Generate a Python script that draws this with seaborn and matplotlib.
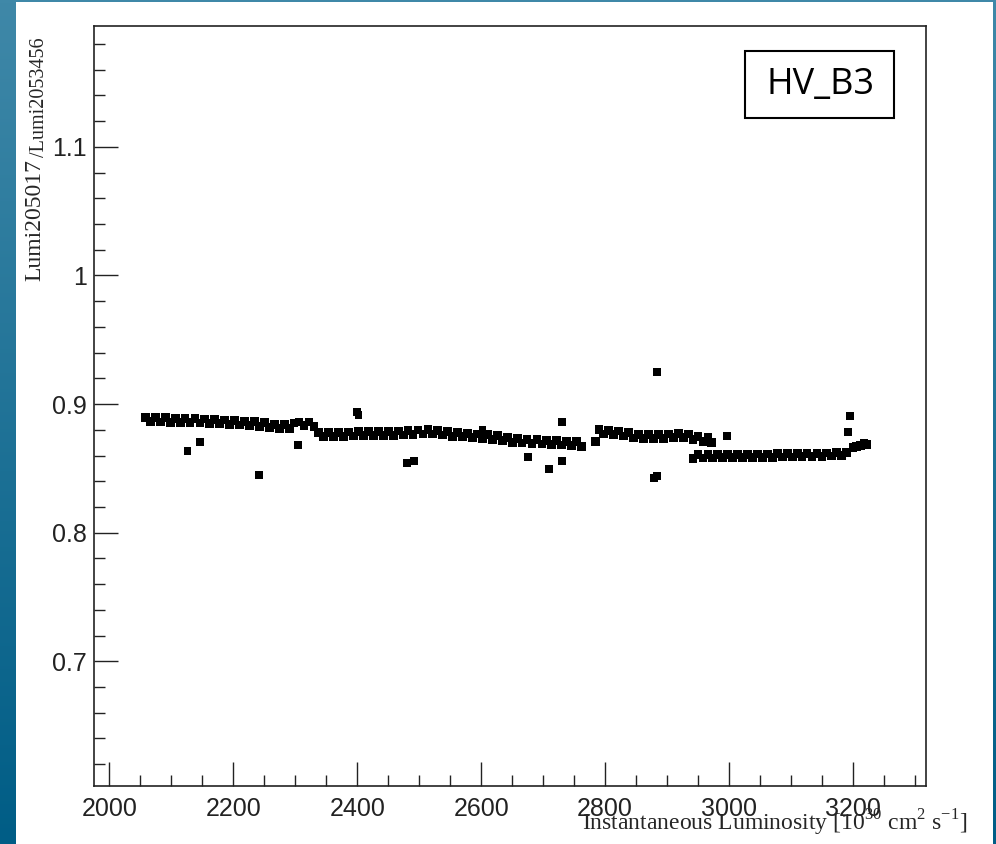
import numpy as np
import pandas as pd
import matplotlib
matplotlib.use("Agg")
import matplotlib.pyplot as plt
import seaborn as sns
from matplotlib.patches import Rectangle
from matplotlib.ticker import MultipleLocator, FuncFormatter

# ============================================================
# Data (ratio of luminosities vs inst. lumi)
# ============================================================
# main band, first part (before the gap near 2770)
band1_x = [2058, 2066, 2074, 2082, 2090, 2098, 2106, 2114, 2122, 2130,
           2138, 2146, 2154, 2162, 2170, 2178, 2186, 2194, 2202, 2210,
           2218, 2226, 2234, 2242, 2250, 2258, 2266, 2274, 2282, 2290,
           2298, 2306, 2314, 2322, 2330, 2338, 2346, 2354, 2362, 2370,
           2378, 2386, 2394, 2402, 2410, 2418, 2426, 2434, 2442, 2450,
           2458, 2466, 2474, 2482, 2490, 2498, 2506, 2514, 2522, 2530,
           2538, 2546, 2554, 2562, 2570, 2578, 2586, 2594, 2602, 2610,
           2618, 2626, 2634, 2642, 2650, 2658, 2666, 2674, 2682, 2690,
           2698, 2706, 2714, 2722, 2730, 2738, 2746, 2754, 2762]
band1_y = [0.8896, 0.8862, 0.8894, 0.8860, 0.8893, 0.8859, 0.8890, 0.8857, 0.8888, 0.8856,
           0.8886, 0.8853, 0.8884, 0.8850, 0.8880, 0.8847, 0.8876, 0.8842, 0.8872, 0.8837,
           0.8866, 0.8832, 0.8862, 0.8828, 0.8858, 0.8819, 0.8844, 0.8809, 0.8842, 0.8812,
           0.8852, 0.8861, 0.8832, 0.8861, 0.8824, 0.8781, 0.8746, 0.8779, 0.8748, 0.8781,
           0.8750, 0.8783, 0.8752, 0.8785, 0.8754, 0.8786, 0.8755, 0.8788, 0.8756, 0.8789,
           0.8758, 0.8791, 0.8760, 0.8794, 0.8764, 0.8798, 0.8767, 0.8800, 0.8767, 0.8796,
           0.8759, 0.8786, 0.8750, 0.8780, 0.8745, 0.8774, 0.8739, 0.8768, 0.8733, 0.8762,
           0.8726, 0.8754, 0.8717, 0.8743, 0.8704, 0.8732, 0.8697, 0.8727, 0.8693, 0.8723,
           0.8689, 0.8719, 0.8685, 0.8715, 0.8681, 0.8711, 0.8677, 0.8706, 0.8671]

# upper band after the gap
band2_x = [2785, 2790, 2798, 2806, 2814, 2822, 2830, 2838, 2846, 2854, 2862, 2870,
           2878, 2886, 2894, 2902, 2910, 2918, 2926, 2934, 2942, 2950, 2958, 2966, 2972]
band2_y = [0.8710, 0.8801, 0.8767, 0.8797, 0.8762, 0.8790, 0.8752, 0.8776, 0.8736, 0.8764,
           0.8730, 0.8762, 0.8730, 0.8763, 0.8733, 0.8768, 0.8738, 0.8772, 0.8740, 0.8768,
           0.8724, 0.8748, 0.8709, 0.8738, 0.8704]

# lower band (after the step down near 2940) and the little rise at the end
band3_x = [2942, 2950, 2958, 2966, 2974, 2982, 2990, 2998, 3006, 3014, 3022,
           3030, 3038, 3046, 3054, 3062, 3070, 3078, 3086, 3094, 3102, 3110,
           3118, 3126, 3134, 3142, 3150, 3158, 3166, 3174, 3182, 3190,
           3200, 3206, 3212, 3218, 3222]
band3_y = [0.8579, 0.8605, 0.8580, 0.8606, 0.8581, 0.8607, 0.8582, 0.8608, 0.8583, 0.8609, 0.8584,
           0.8610, 0.8585, 0.8611, 0.8586, 0.8612, 0.8587, 0.8613, 0.8588, 0.8614, 0.8589, 0.8615,
           0.8590, 0.8616, 0.8591, 0.8617, 0.8593, 0.8619, 0.8597, 0.8622, 0.8600, 0.8624,
           0.8660, 0.8668, 0.8680, 0.8696, 0.8688]

# isolated points
outl_x = [2126, 2146, 2242, 2304, 2399, 2402, 2480, 2492, 2602, 2675,
          2709, 2730, 2731, 2879, 2884, 2884, 2997, 3192, 3195]
outl_y = [0.8636, 0.8705, 0.8450, 0.8682, 0.8938, 0.8915, 0.8543, 0.8558, 0.8798, 0.8589,
          0.8496, 0.8860, 0.8558, 0.8426, 0.8442, 0.9250, 0.8752, 0.8780, 0.8905]

x_ticks = [2000, 2200, 2400, 2600, 2800, 3000, 3200]
y_ticks = [0.7, 0.8, 0.9, 1.0, 1.1]

band = pd.DataFrame({"lumi": band1_x + band2_x + band3_x,
                     "ratio": band1_y + band2_y + band3_y})
outl = pd.DataFrame({"lumi": outl_x, "ratio": outl_y})

sns.set_style("ticks")
W, H = 996, 844
fig = plt.figure(figsize=(W / 100, H / 100), dpi=100)

# blue frame with vertical gradient, white page on top
bg = fig.add_axes([0, 0, 1, 1], zorder=-10)
grad = np.linspace(0, 1, 256).reshape(-1, 1)
cmap = matplotlib.colors.LinearSegmentedColormap.from_list("bg", ["#3f88a8", "#005d86"])
bg.imshow(grad, aspect="auto", cmap=cmap, extent=[0, 1, 0, 1], origin="upper")
bg.add_patch(Rectangle((16 / W, 0), (993 - 16) / W, (H - 2) / H, color="white", lw=0))
bg.set_axis_off()

ax = fig.add_axes([94 / W, 1 - 786 / H, (926 - 94) / W, (786 - 26) / H])
sns.scatterplot(data=band, x="lumi", y="ratio", ax=ax, marker="s", s=40,
                color="black", edgecolor="none", linewidth=0, legend=False)
sns.scatterplot(data=outl, x="lumi", y="ratio", ax=ax, marker="s", s=32,
                color="black", edgecolor="none", linewidth=0, legend=False)

ax.set_xlim(1975, 3318)
ax.set_ylim(0.603, 1.194)
ax.set_xticks(x_ticks)
ax.set_yticks(y_ticks)
ax.xaxis.set_minor_locator(MultipleLocator(50))
ax.yaxis.set_minor_locator(MultipleLocator(0.02))
ax.yaxis.set_major_formatter(FuncFormatter(lambda v, p: f"{v:g}"))
ax.tick_params(which="major", direction="in", length=17, width=1.0, color="#222222",
               labelsize=18, labelcolor="#222222", pad=5)
ax.tick_params(which="minor", direction="in", length=8, width=1.0, color="#222222")
ax.tick_params(axis="x", which="major", pad=8)
for lab in ax.get_xticklabels() + ax.get_yticklabels():
    lab.set_family(["Liberation Sans", "DejaVu Sans"])
for sp in ax.spines.values():
    sp.set_visible(True)
    sp.set_linewidth(1.2)
    sp.set_color("#222222")
ax.set_xlabel("")
ax.set_ylabel("")
ax.set_facecolor("white")

# axis titles (ROOT-style, serif)
serif = ["Liberation Serif", "DejaVu Serif"]
fig.text(35 / W, 1 - 281 / H, "Lumi205017", rotation=90, ha="center", va="bottom",
         fontsize=17, family=serif)
fig.text(40 / W, 1 - 157 / H, "/Lumi2053456", rotation=90, ha="center", va="bottom",
         fontsize=14.5, family=serif)
fig.text(967 / W, 1 - 830 / H,
         r"Instantaneous Luminosity [10$^{\mathregular{30}}$ cm$^{\mathregular{2}}$ s$^{\mathregular{-1}}$]",
         ha="right", va="baseline", fontsize=17, family=serif)

# label box
fig.add_artist(Rectangle((745 / W, 1 - 118 / H), (894 - 745) / W, (118 - 51) / H,
                         transform=fig.transFigure, fill=False, lw=1.5, ec="black"))
fig.text(820 / W, 1 - 85 / H, "HV_B3", ha="center", va="center", fontsize=26,
         color="black", family=["Open Sans", "DejaVu Sans"])

fig.savefig("out.png", dpi=100)
